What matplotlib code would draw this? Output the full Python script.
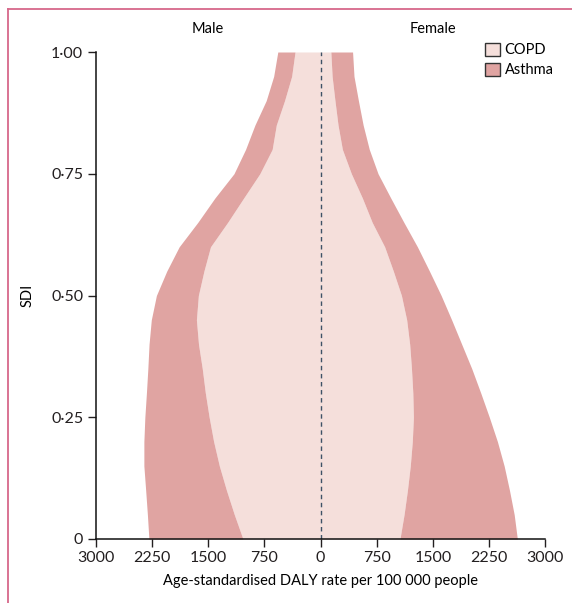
import numpy as np
import matplotlib.pyplot as plt
from matplotlib.patches import Patch
from matplotlib.lines import Line2D

# SDI levels (y) and age-standardised DALY rates per 100 000
sdi = [1.00, 0.95, 0.90, 0.85, 0.80, 0.75, 0.70, 0.65, 0.60, 0.55, 0.50,
       0.45, 0.40, 0.35, 0.30, 0.25, 0.20, 0.15, 0.10, 0.05, 0.00]

male_copd = [340, 385, 480, 590, 645, 810, 1026, 1240, 1468, 1556, 1630,
             1656, 1628, 1578, 1537, 1486, 1426, 1350, 1255, 1150, 1035]
male_asthma = [230, 240, 245, 285, 355, 345, 384, 398, 418, 496, 560,
               602, 660, 726, 786, 858, 931, 1007, 1078, 1160, 1255]

female_copd = [138, 155, 193, 234, 292, 412, 559, 690, 856, 972, 1080,
               1150, 1190, 1214, 1232, 1240, 1225, 1198, 1160, 1115, 1060]
female_asthma = [290, 292, 313, 335, 359, 356, 379, 423, 437, 482, 530,
                 600, 694, 804, 906, 1013, 1136, 1253, 1362, 1470, 1567]

xticks = [-3000, -2250, -1500, -750, 0, 750, 1500, 2250, 3000]
yticks = [0, 0.25, 0.50, 0.75, 1.00]
ytick_labels = ['0', '0·25', '0·50', '0·75', '1·00']

copd_colour = '#f5dfdb'
asthma_colour = '#e0a4a2'
frame_colour = '#d7688a'

plt.rcParams['font.family'] = ['Lato', 'DejaVu Sans']
plt.rcParams['font.size'] = 10.5

fig = plt.figure(figsize=(5.72, 6.03), dpi=100)
ax = fig.add_axes([95.7 / 572, 1 - 539 / 603, 449.6 / 572, 487 / 603])

# left side is male (drawn negative), right side is female
m_copd = -np.array(male_copd)
m_total = m_copd - np.array(male_asthma)
f_copd = np.array(female_copd)
f_total = f_copd + np.array(female_asthma)

ax.fill_betweenx(sdi, m_copd, f_copd, color=copd_colour, lw=0)
ax.fill_betweenx(sdi, m_total, m_copd, color=asthma_colour, lw=0)
ax.fill_betweenx(sdi, f_copd, f_total, color=asthma_colour, lw=0)
ax.plot([0, 0], [0, 1], color='#3e5266', lw=1.0, ls=(0, (3.2, 2.6)))

ax.set_xlim(-3000, 3000)
ax.set_ylim(0, 1)
ax.set_xticks(xticks)
ax.set_xticklabels([str(abs(t)) for t in xticks])
ax.set_yticks(yticks)
ax.set_yticklabels(ytick_labels)
ax.tick_params(length=6, width=1, direction='out', pad=3, colors='#231f20',
               labelsize=11.5)
for side in ['top', 'right']:
    ax.spines[side].set_visible(False)
for side in ['left', 'bottom']:
    ax.spines[side].set_linewidth(1.1)
    ax.spines[side].set_color('#111111')

ax.set_xlabel('Age-standardised DALY rate per 100 000 people', labelpad=6)
ax.set_ylabel('SDI', labelpad=12)

ax.text(-1500, 1.032, 'Male', ha='center', va='bottom')
ax.text(1500, 1.032, 'Female', ha='center', va='bottom')

handles = [Patch(facecolor=copd_colour, edgecolor='#333333', lw=1, label='COPD'),
           Patch(facecolor=asthma_colour, edgecolor='#333333', lw=1, label='Asthma')]
fig.legend(handles=handles, loc='upper left', bbox_to_anchor=(482 / 572, 1 - 40 / 603),
           frameon=False, handlelength=1.0, handleheight=1.0, handletextpad=0.35,
           labelspacing=0.35, borderaxespad=0, borderpad=0.2)

# pink frame on the left and top edges
fig.add_artist(Line2D([8 / 572, 8 / 572], [0, 1 - 9 / 603], transform=fig.transFigure,
                      color=frame_colour, lw=1.3))
fig.add_artist(Line2D([8 / 572, 1], [1 - 9 / 603, 1 - 9 / 603], transform=fig.transFigure,
                      color=frame_colour, lw=1.3))

fig.savefig('out.png', dpi=100)
